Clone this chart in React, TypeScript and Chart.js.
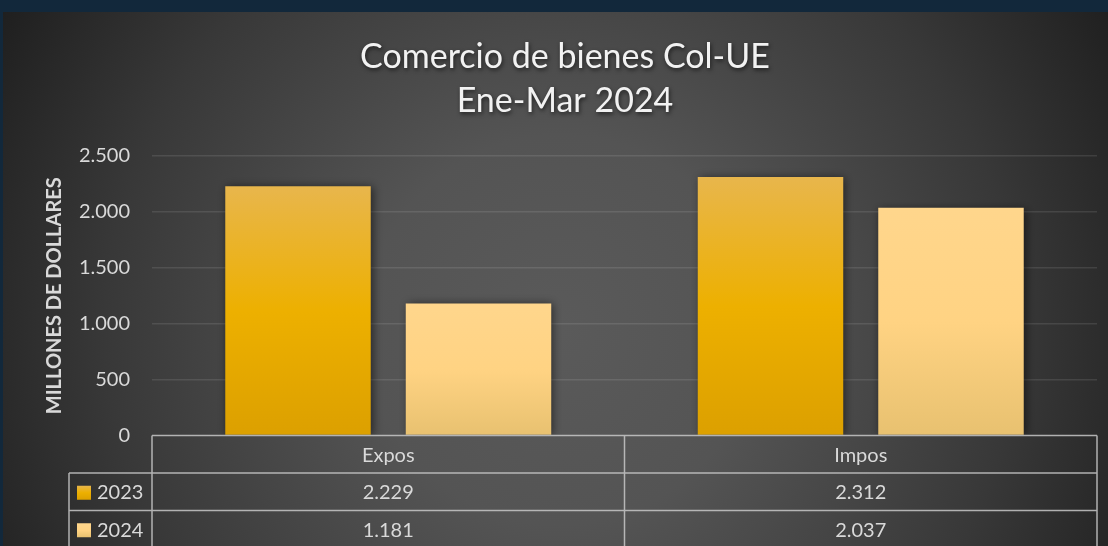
import React, { useEffect, useRef } from "react";
import { Chart, registerables } from "chart.js";

Chart.register(...registerables);

const categories = ["Expos", "Impos"];
const seriesLabels = ["2023", "2024"];
const values2023 = [2229, 2312];
const values2024 = [1181, 2037];
const yMax = 2500;
const yStep = 500;
const titleLines = ["Comercio de bienes Col-UE", "Ene-Mar 2024"];
const yTitle = "MILLONES DE DOLLARES";

const FONT = "Lato, 'Open Sans', sans-serif";
const TEXT = "#d9d9d9";
const LINE = "rgba(200,200,200,0.85)";

const fmt = (n: number) => String(n).replace(/\B(?=(\d{3})+(?!\d))/g, ".");

const gradStops2023: [number, string][] = [
  [0, "#e8b64c"],
  [0.5, "#edb000"],
  [1, "#dca000"],
];
const gradStops2024: [number, string][] = [
  [0, "#ffd68c"],
  [0.5, "#ffd383"],
  [1, "#e8c170"],
];

function barGradient(stops: [number, string][]) {
  return (c: any) => {
    const chart = c.chart;
    const y = chart.scales && chart.scales.y;
    if (!y || c.raw === undefined || c.raw === null) return stops[1][1];
    const top = y.getPixelForValue(c.raw);
    const bottom = y.getPixelForValue(0);
    if (!isFinite(top) || !isFinite(bottom) || top === bottom) return stops[1][1];
    const g = chart.ctx.createLinearGradient(0, top, 0, bottom);
    stops.forEach(([p, col]) => g.addColorStop(p, col));
    return g;
  };
}

const bgPlugin = {
  id: "bgPlugin",
  beforeDraw(chart: any) {
    const { ctx, width, height } = chart;
    ctx.save();
    const g = ctx.createRadialGradient(557, 318, 0, 557, 318, 650);
    g.addColorStop(0, "#5a5a5a");
    g.addColorStop(0.3, "#545454");
    g.addColorStop(0.7, "#383838");
    g.addColorStop(1, "#1e1e1e");
    ctx.fillStyle = g;
    ctx.fillRect(0, 0, width, height);
    ctx.restore();
  },
};

const titlePlugin = {
  id: "titlePlugin",
  afterDraw(chart: any) {
    const { ctx } = chart;
    ctx.save();
    ctx.font = `34px ${FONT}`;
    ctx.fillStyle = "#f2f2f2";
    ctx.textAlign = "center";
    ctx.textBaseline = "middle";
    ctx.shadowColor = "rgba(0,0,0,0.6)";
    ctx.shadowBlur = 4;
    ctx.shadowOffsetX = 1;
    ctx.shadowOffsetY = 2;
    ctx.fillText(titleLines[0], 562, 45);
    ctx.fillText(titleLines[1], 562, 89);
    ctx.restore();
  },
};

const shadowPlugin = {
  id: "shadowPlugin",
  beforeDatasetsDraw(chart: any) {
    const ctx = chart.ctx;
    ctx.save();
    ctx.shadowColor = "rgba(0,0,0,0.55)";
    ctx.shadowBlur = 9;
    ctx.shadowOffsetX = 2;
    ctx.shadowOffsetY = 1;
  },
  afterDatasetsDraw(chart: any) {
    chart.ctx.restore();
  },
};

const tablePlugin = {
  id: "tablePlugin",
  afterDraw(chart: any) {
    const { ctx, chartArea } = chart;
    const x = chart.scales.x;
    const rowH = 37.5;
    const top = chartArea.bottom;
    const left = chartArea.left;
    const right = chartArea.right;
    const legLeft = 66;
    const bottom = top + rowH * 3 + 5;
    const centers = categories.map((_, i) => x.getPixelForValue(i));
    const seps: number[] = [];
    for (let i = 0; i < centers.length - 1; i++) seps.push((centers[i] + centers[i + 1]) / 2);

    ctx.save();
    ctx.strokeStyle = LINE;
    ctx.lineWidth = 1.5;
    ctx.beginPath();
    ctx.moveTo(left, top);
    ctx.lineTo(right, top);
    for (let r = 1; r <= 2; r++) {
      ctx.moveTo(legLeft, top + rowH * r);
      ctx.lineTo(right, top + rowH * r);
    }
    [left, ...seps, right].forEach((vx) => {
      ctx.moveTo(vx, top);
      ctx.lineTo(vx, bottom);
    });
    ctx.moveTo(legLeft, top + rowH);
    ctx.lineTo(legLeft, bottom);
    ctx.stroke();

    ctx.font = `20px ${FONT}`;
    ctx.fillStyle = TEXT;
    ctx.textAlign = "center";
    ctx.textBaseline = "middle";
    categories.forEach((c, i) => ctx.fillText(c, centers[i], top + rowH / 2 + 1));
    const rows = [values2023, values2024];
    rows.forEach((vals, r) => {
      const cy = top + rowH * (r + 1) + rowH / 2 + 1;
      vals.forEach((v, i) => ctx.fillText(fmt(v), centers[i], cy));
    });
    ctx.textAlign = "left";
    seriesLabels.forEach((s, r) => {
      const cy = top + rowH * (r + 1) + rowH / 2 + 1;
      const stops = r === 0 ? gradStops2023 : gradStops2024;
      const g = ctx.createLinearGradient(0, cy - 7, 0, cy + 7);
      stops.forEach(([p, col]) => g.addColorStop(p, col));
      ctx.fillStyle = g;
      ctx.fillRect(74, cy - 7, 14, 14);
      ctx.fillStyle = TEXT;
      ctx.fillText(s, 94, cy);
    });
    ctx.restore();
  },
};

export default function App() {
  const ref = useRef<HTMLCanvasElement | null>(null);
  useEffect(() => {
    document.body.style.margin = "0";
    const canvas = ref.current;
    if (!canvas) return;
    const chart = new Chart(canvas, {
      type: "bar",
      data: {
        labels: categories,
        datasets: [
          {
            label: seriesLabels[0],
            data: values2023,
            backgroundColor: barGradient(gradStops2023) as any,
            borderWidth: 0,
          },
          {
            label: seriesLabels[1],
            data: values2024,
            backgroundColor: barGradient(gradStops2024) as any,
            borderWidth: 0,
          },
        ],
      },
      options: {
        animation: false,
        responsive: false,
        devicePixelRatio: 1,
        datasets: { bar: { categoryPercentage: 0.764, barPercentage: 0.806 } },
        layout: { padding: { left: 0, right: 11, top: 144, bottom: 110.5 } },
        plugins: {
          legend: { display: false },
          title: { display: false },
          tooltip: { enabled: false },
        },
        scales: {
          x: { display: false },
          y: {
            min: 0,
            max: yMax,
            afterFit: (s: any) => {
              s.width = 149;
            },
            ticks: {
              stepSize: yStep,
              color: TEXT,
              font: { family: FONT, size: 20 },
              padding: 22,
              callback: (v: any) => fmt(Number(v)),
            },
            grid: {
              drawTicks: false,
              lineWidth: 1.5,
              color: (c: any) => (c.tick && c.tick.value === 0 ? "rgba(0,0,0,0)" : "rgba(255,255,255,0.1)"),
            },
            border: { display: false },
            title: {
              display: true,
              text: yTitle,
              color: TEXT,
              font: { family: FONT, size: 20, weight: "bold" },
              padding: { top: 40, bottom: 0 },
            },
          },
        },
      },
      plugins: [bgPlugin, shadowPlugin, tablePlugin, titlePlugin],
    });
    return () => chart.destroy();
  }, []);
  return (
    <div style={{ position: "relative", width: 1108, height: 546, background: "#12283b", overflow: "hidden" }}>
      <canvas ref={ref} width={1105} height={534} style={{ position: "absolute", left: 3, top: 12, width: 1105, height: 534 }} />
    </div>
  );
}
